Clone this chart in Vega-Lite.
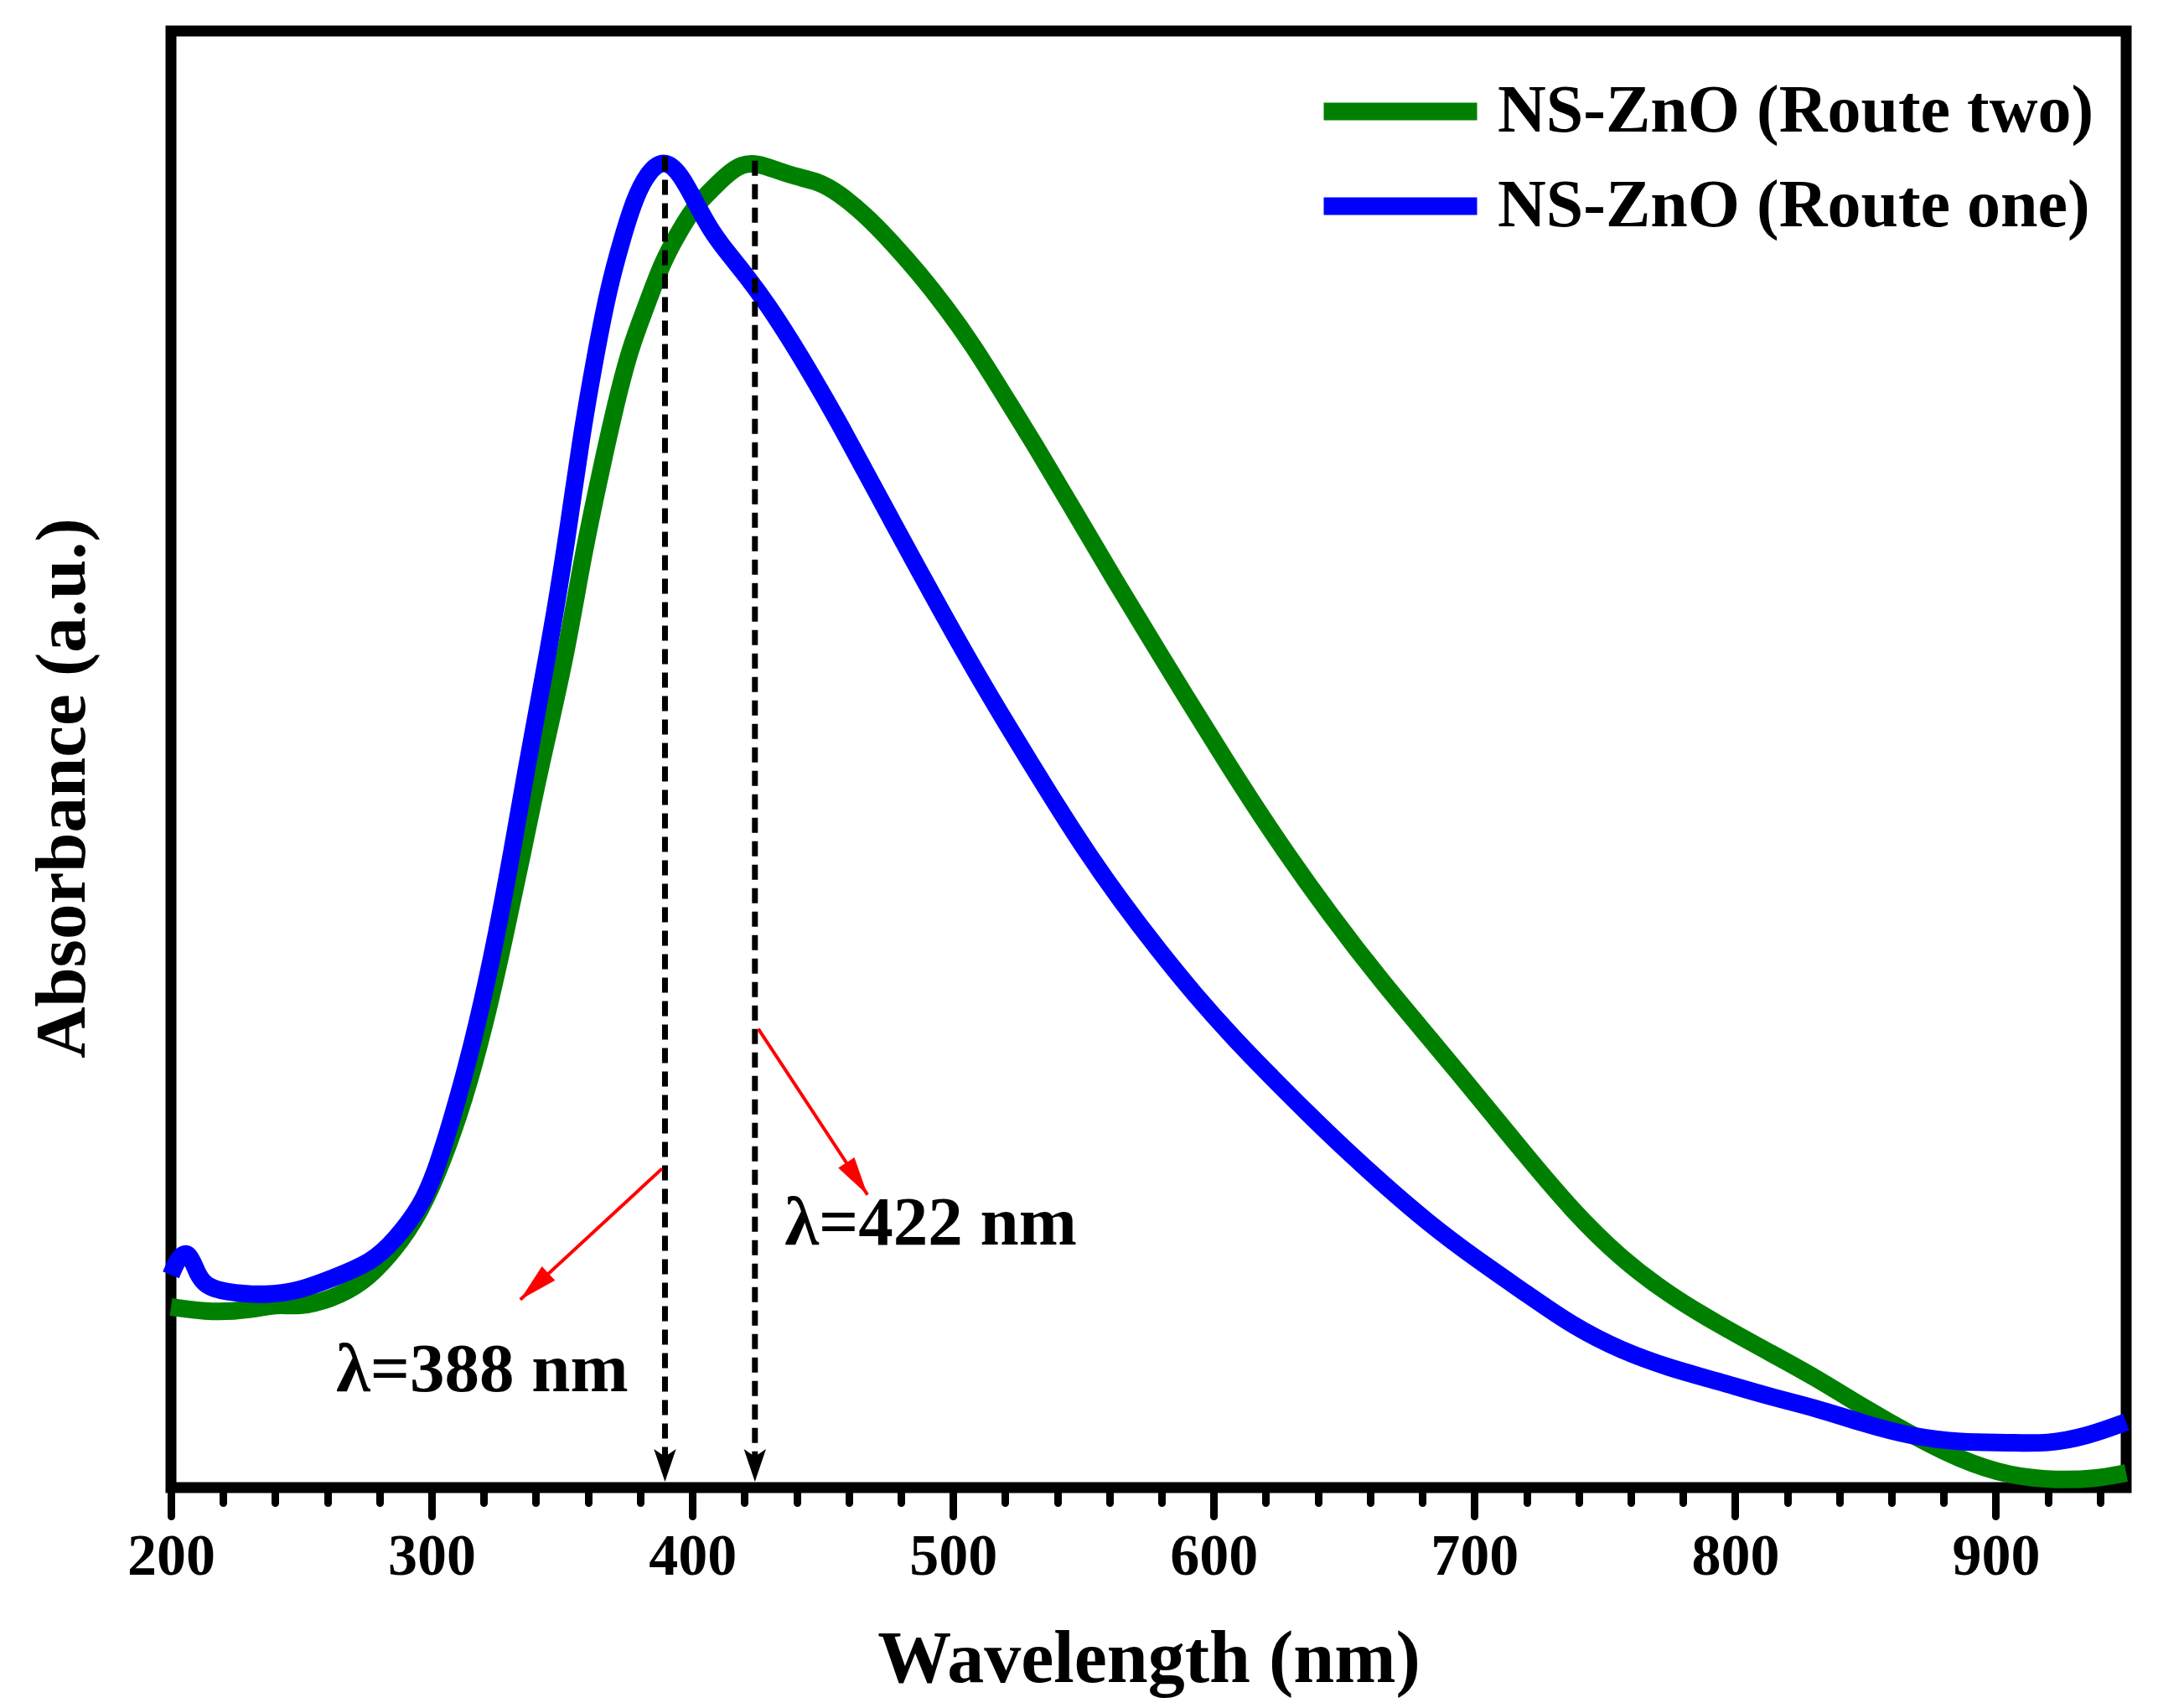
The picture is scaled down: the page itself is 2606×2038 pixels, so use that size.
{
  "$schema": "https://vega.github.io/schema/vega-lite/v6.json",
  "description": "UV-Vis absorbance of NS-ZnO, route one vs route two",
  "autosize": "none",
  "width": 2333,
  "height": 1738,
  "padding": {"left": 204, "top": 37, "right": 69, "bottom": 263},
  "background": "white",
  "datasets": {
    "curves": [
      {"series": "NS-ZnO (Route two)", "wl": 200, "a": 0.124},
      {"series": "NS-ZnO (Route two)", "wl": 216, "a": 0.120},
      {"series": "NS-ZnO (Route two)", "wl": 230.5, "a": 0.122},
      {"series": "NS-ZnO (Route two)", "wl": 240.7, "a": 0.126},
      {"series": "NS-ZnO (Route two)", "wl": 249, "a": 0.124},
      {"series": "NS-ZnO (Route two)", "wl": 261, "a": 0.129},
      {"series": "NS-ZnO (Route two)", "wl": 273.6, "a": 0.140},
      {"series": "NS-ZnO (Route two)", "wl": 285.9, "a": 0.163},
      {"series": "NS-ZnO (Route two)", "wl": 296, "a": 0.190},
      {"series": "NS-ZnO (Route two)", "wl": 304, "a": 0.223},
      {"series": "NS-ZnO (Route two)", "wl": 312.5, "a": 0.266},
      {"series": "NS-ZnO (Route two)", "wl": 320.6, "a": 0.319},
      {"series": "NS-ZnO (Route two)", "wl": 328, "a": 0.378},
      {"series": "NS-ZnO (Route two)", "wl": 335, "a": 0.437},
      {"series": "NS-ZnO (Route two)", "wl": 341, "a": 0.490},
      {"series": "NS-ZnO (Route two)", "wl": 351.4, "a": 0.570},
      {"series": "NS-ZnO (Route two)", "wl": 357.5, "a": 0.635},
      {"series": "NS-ZnO (Route two)", "wl": 363.7, "a": 0.688},
      {"series": "NS-ZnO (Route two)", "wl": 369.8, "a": 0.738},
      {"series": "NS-ZnO (Route two)", "wl": 376, "a": 0.782},
      {"series": "NS-ZnO (Route two)", "wl": 382.3, "a": 0.811},
      {"series": "NS-ZnO (Route two)", "wl": 388.4, "a": 0.841},
      {"series": "NS-ZnO (Route two)", "wl": 394.5, "a": 0.861},
      {"series": "NS-ZnO (Route two)", "wl": 400.6, "a": 0.879},
      {"series": "NS-ZnO (Route two)", "wl": 406.8, "a": 0.890},
      {"series": "NS-ZnO (Route two)", "wl": 412.9, "a": 0.901},
      {"series": "NS-ZnO (Route two)", "wl": 419, "a": 0.909},
      {"series": "NS-ZnO (Route two)", "wl": 425.3, "a": 0.909},
      {"series": "NS-ZnO (Route two)", "wl": 431.5, "a": 0.905},
      {"series": "NS-ZnO (Route two)", "wl": 439.5, "a": 0.900},
      {"series": "NS-ZnO (Route two)", "wl": 447.9, "a": 0.897},
      {"series": "NS-ZnO (Route two)", "wl": 456, "a": 0.889},
      {"series": "NS-ZnO (Route two)", "wl": 466.2, "a": 0.874},
      {"series": "NS-ZnO (Route two)", "wl": 476.5, "a": 0.855},
      {"series": "NS-ZnO (Route two)", "wl": 486.8, "a": 0.834},
      {"series": "NS-ZnO (Route two)", "wl": 497, "a": 0.811},
      {"series": "NS-ZnO (Route two)", "wl": 507.4, "a": 0.785},
      {"series": "NS-ZnO (Route two)", "wl": 519.6, "a": 0.750},
      {"series": "NS-ZnO (Route two)", "wl": 531, "a": 0.717},
      {"series": "NS-ZnO (Route two)", "wl": 544, "a": 0.678},
      {"series": "NS-ZnO (Route two)", "wl": 564.3, "a": 0.616},
      {"series": "NS-ZnO (Route two)", "wl": 584.2, "a": 0.558},
      {"series": "NS-ZnO (Route two)", "wl": 604.5, "a": 0.499},
      {"series": "NS-ZnO (Route two)", "wl": 624.4, "a": 0.444},
      {"series": "NS-ZnO (Route two)", "wl": 644.7, "a": 0.393},
      {"series": "NS-ZnO (Route two)", "wl": 664.6, "a": 0.347},
      {"series": "NS-ZnO (Route two)", "wl": 684, "a": 0.306},
      {"series": "NS-ZnO (Route two)", "wl": 700.6, "a": 0.270},
      {"series": "NS-ZnO (Route two)", "wl": 719.3, "a": 0.229},
      {"series": "NS-ZnO (Route two)", "wl": 737.6, "a": 0.190},
      {"series": "NS-ZnO (Route two)", "wl": 756.3, "a": 0.157},
      {"series": "NS-ZnO (Route two)", "wl": 774.9, "a": 0.132},
      {"series": "NS-ZnO (Route two)", "wl": 793.6, "a": 0.112},
      {"series": "NS-ZnO (Route two)", "wl": 811.9, "a": 0.094},
      {"series": "NS-ZnO (Route two)", "wl": 830.5, "a": 0.076},
      {"series": "NS-ZnO (Route two)", "wl": 849.2, "a": 0.055},
      {"series": "NS-ZnO (Route two)", "wl": 867.8, "a": 0.036},
      {"series": "NS-ZnO (Route two)", "wl": 886.5, "a": 0.019},
      {"series": "NS-ZnO (Route two)", "wl": 904.8, "a": 0.008},
      {"series": "NS-ZnO (Route two)", "wl": 923.5, "a": 0.005},
      {"series": "NS-ZnO (Route two)", "wl": 938.3, "a": 0.006},
      {"series": "NS-ZnO (Route two)", "wl": 950, "a": 0.010},
      {"series": "NS-ZnO (Route one)", "wl": 200, "a": 0.146},
      {"series": "NS-ZnO (Route one)", "wl": 202.8, "a": 0.158},
      {"series": "NS-ZnO (Route one)", "wl": 206.8, "a": 0.163},
      {"series": "NS-ZnO (Route one)", "wl": 210, "a": 0.147},
      {"series": "NS-ZnO (Route one)", "wl": 212.9, "a": 0.139},
      {"series": "NS-ZnO (Route one)", "wl": 220.3, "a": 0.134},
      {"series": "NS-ZnO (Route one)", "wl": 236.7, "a": 0.132},
      {"series": "NS-ZnO (Route one)", "wl": 249, "a": 0.135},
      {"series": "NS-ZnO (Route one)", "wl": 261, "a": 0.143},
      {"series": "NS-ZnO (Route one)", "wl": 277.5, "a": 0.155},
      {"series": "NS-ZnO (Route one)", "wl": 285.9, "a": 0.170},
      {"series": "NS-ZnO (Route one)", "wl": 296, "a": 0.193},
      {"series": "NS-ZnO (Route one)", "wl": 302, "a": 0.219},
      {"series": "NS-ZnO (Route one)", "wl": 310, "a": 0.266},
      {"series": "NS-ZnO (Route one)", "wl": 317.7, "a": 0.319},
      {"series": "NS-ZnO (Route one)", "wl": 324.8, "a": 0.378},
      {"series": "NS-ZnO (Route one)", "wl": 330.9, "a": 0.437},
      {"series": "NS-ZnO (Route one)", "wl": 336, "a": 0.490},
      {"series": "NS-ZnO (Route one)", "wl": 342, "a": 0.548},
      {"series": "NS-ZnO (Route one)", "wl": 347.3, "a": 0.600},
      {"series": "NS-ZnO (Route one)", "wl": 352.4, "a": 0.658},
      {"series": "NS-ZnO (Route one)", "wl": 357.5, "a": 0.723},
      {"series": "NS-ZnO (Route one)", "wl": 362.7, "a": 0.776},
      {"series": "NS-ZnO (Route one)", "wl": 367.8, "a": 0.823},
      {"series": "NS-ZnO (Route one)", "wl": 373, "a": 0.857},
      {"series": "NS-ZnO (Route one)", "wl": 378, "a": 0.886},
      {"series": "NS-ZnO (Route one)", "wl": 383.3, "a": 0.904},
      {"series": "NS-ZnO (Route one)", "wl": 389.4, "a": 0.912},
      {"series": "NS-ZnO (Route one)", "wl": 395.5, "a": 0.902},
      {"series": "NS-ZnO (Route one)", "wl": 401.6, "a": 0.881},
      {"series": "NS-ZnO (Route one)", "wl": 406.8, "a": 0.864},
      {"series": "NS-ZnO (Route one)", "wl": 412.9, "a": 0.849},
      {"series": "NS-ZnO (Route one)", "wl": 421.2, "a": 0.831},
      {"series": "NS-ZnO (Route one)", "wl": 429.3, "a": 0.811},
      {"series": "NS-ZnO (Route one)", "wl": 437.6, "a": 0.788},
      {"series": "NS-ZnO (Route one)", "wl": 445.7, "a": 0.764},
      {"series": "NS-ZnO (Route one)", "wl": 456, "a": 0.732},
      {"series": "NS-ZnO (Route one)", "wl": 466.2, "a": 0.698},
      {"series": "NS-ZnO (Route one)", "wl": 476.5, "a": 0.664},
      {"series": "NS-ZnO (Route one)", "wl": 486.8, "a": 0.630},
      {"series": "NS-ZnO (Route one)", "wl": 497, "a": 0.597},
      {"series": "NS-ZnO (Route one)", "wl": 507.4, "a": 0.564},
      {"series": "NS-ZnO (Route one)", "wl": 519.6, "a": 0.527},
      {"series": "NS-ZnO (Route one)", "wl": 535.7, "a": 0.480},
      {"series": "NS-ZnO (Route one)", "wl": 549.8, "a": 0.440},
      {"series": "NS-ZnO (Route one)", "wl": 564.3, "a": 0.403},
      {"series": "NS-ZnO (Route one)", "wl": 578.8, "a": 0.369},
      {"series": "NS-ZnO (Route one)", "wl": 592.9, "a": 0.338},
      {"series": "NS-ZnO (Route one)", "wl": 607.4, "a": 0.309},
      {"series": "NS-ZnO (Route one)", "wl": 621.5, "a": 0.283},
      {"series": "NS-ZnO (Route one)", "wl": 636, "a": 0.257},
      {"series": "NS-ZnO (Route one)", "wl": 650.5, "a": 0.232},
      {"series": "NS-ZnO (Route one)", "wl": 664.6, "a": 0.209},
      {"series": "NS-ZnO (Route one)", "wl": 682, "a": 0.182},
      {"series": "NS-ZnO (Route one)", "wl": 700.6, "a": 0.157},
      {"series": "NS-ZnO (Route one)", "wl": 719.3, "a": 0.134},
      {"series": "NS-ZnO (Route one)", "wl": 737.6, "a": 0.111},
      {"series": "NS-ZnO (Route one)", "wl": 756.3, "a": 0.094},
      {"series": "NS-ZnO (Route one)", "wl": 774.9, "a": 0.082},
      {"series": "NS-ZnO (Route one)", "wl": 793.6, "a": 0.073},
      {"series": "NS-ZnO (Route one)", "wl": 811.9, "a": 0.063},
      {"series": "NS-ZnO (Route one)", "wl": 830.5, "a": 0.055},
      {"series": "NS-ZnO (Route one)", "wl": 849.2, "a": 0.044},
      {"series": "NS-ZnO (Route one)", "wl": 867.8, "a": 0.035},
      {"series": "NS-ZnO (Route one)", "wl": 886.5, "a": 0.031},
      {"series": "NS-ZnO (Route one)", "wl": 904.8, "a": 0.031},
      {"series": "NS-ZnO (Route one)", "wl": 920, "a": 0.030},
      {"series": "NS-ZnO (Route one)", "wl": 934.7, "a": 0.035},
      {"series": "NS-ZnO (Route one)", "wl": 950, "a": 0.045}
    ],
    "peaks": [
      {"wl": 389.5, "a": 0.914, "a2": 0.02},
      {"wl": 424, "a": 0.911, "a2": 0.02}
    ],
    "peakTips": [
      {"wl": 389.5, "a": 0.004},
      {"wl": 424, "a": 0.004}
    ],
    "pointers": [
      {"wl": 388.4, "a": 0.219, "wl2": 334, "a2": 0.129},
      {"wl": 425.3, "a": 0.315, "wl2": 467.2, "a2": 0.201}
    ],
    "pointerTips": [
      {"wl": 334, "a": 0.129},
      {"wl": 467.2, "a": 0.201}
    ],
    "labels": [
      {"wl": 263.3, "a": 0.066, "text": "λ=388 nm"},
      {"wl": 435.4, "a": 0.167, "text": "λ=422 nm"}
    ]
  },
  "encoding": {
    "x": {"field": "wl", "type": "quantitative", "scale": {"domain": [200, 950], "nice": false, "zero": false}, "axis": null},
    "y": {
      "field": "a", "type": "quantitative",
      "scale": {"domain": [0, 1], "nice": false},
      "axis": {
        "orient": "left",
        "ticks": false,
        "labels": false,
        "title": "Absorbance (a.u.)",
        "titleFontSize": 85,
        "titleAngle": 270,
        "titleBaseline": "alphabetic",
        "titleAlign": "center",
        "titleX": -104,
        "titleY": 903
      }
    }
  },
  "layer": [
    {
      "data": {"name": "curves"},
      "mark": {"type": "line", "strokeWidth": 21, "strokeJoin": "round", "interpolate": "basis"},
      "encoding": {
        "x": {
          "field": "wl", "type": "quantitative",
          "scale": {"domain": [200, 950], "nice": false, "zero": false},
          "axis": {
            "orient": "bottom",
            "values": [200, 300, 400, 500, 600, 700, 800, 900],
            "tickSize": 34,
            "labelPadding": 14,
            "labelFlush": false,
            "labelOverlap": false,
            "title": "Wavelength (nm)",
            "titleBaseline": "alphabetic",
            "titleY": 231
          }
        },
        "color": {
          "field": "series", "type": "nominal",
          "scale": {"domain": ["NS-ZnO (Route two)", "NS-ZnO (Route one)"], "range": ["#008000", "#0000ff"]},
          "legend": {
            "orient": "none",
            "legendX": 1365,
            "legendY": 51,
            "title": null,
            "symbolType": "stroke",
            "symbolSize": 33489,
            "symbolStrokeWidth": 21,
            "labelFont": "Liberation Serif",
            "labelFontWeight": "bold",
            "labelFontSize": 80,
            "labelColor": "black",
            "labelOffset": 14,
            "labelLimit": 0,
            "clipHeight": 90,
            "rowPadding": 23,
            "padding": 0
          }
        }
      }
    },
    {
      "data": {"name": "peaks"},
      "mark": {"type": "rule", "color": "black", "strokeWidth": 7, "strokeDash": [18, 10]},
      "encoding": {
        "x": {
          "field": "wl", "type": "quantitative",
          "scale": {"domain": [200, 950], "nice": false, "zero": false},
          "axis": {
            "orient": "bottom",
            "values": [220, 240, 260, 280, 320, 340, 360, 380, 420, 440, 460, 480, 520, 540, 560, 580, 620, 640, 660, 680, 720, 740, 760, 780, 820, 840, 860, 880, 920, 940],
            "tickSize": 18,
            "labels": false,
            "title": null
          }
        },
        "y2": {"field": "a2"}
      }
    },
    {
      "data": {"name": "peakTips"},
      "mark": {"type": "point", "shape": "M0,0L-0.66,-1.95L0,-1.5L0.66,-1.95Z", "size": 1600, "filled": true, "color": "black", "opacity": 1, "strokeWidth": 0}
    },
    {
      "data": {"name": "pointers"},
      "mark": {"type": "rule", "color": "#ff0000", "strokeWidth": 4},
      "encoding": {
        "x2": {"field": "wl2"},
        "y2": {"field": "a2"}
      }
    },
    {
      "data": {"name": "pointerTips"},
      "transform": [{"filter": "datum.wl < 400"}],
      "mark": {"type": "point", "shape": "M0,0L-0.5,-2L0.5,-2Z", "size": 2116, "filled": true, "color": "#ff0000", "opacity": 1, "strokeWidth": 0, "angle": 47}
    },
    {
      "data": {"name": "pointerTips"},
      "transform": [{"filter": "datum.wl > 400"}],
      "mark": {"type": "point", "shape": "M0,0L-0.5,-2L0.5,-2Z", "size": 2116, "filled": true, "color": "#ff0000", "opacity": 1, "strokeWidth": 0, "angle": 326.6}
    },
    {
      "data": {"name": "labels"},
      "mark": {"type": "text", "align": "left", "baseline": "alphabetic", "font": "Liberation Serif", "fontWeight": "bold", "fontSize": 83, "color": "black"},
      "encoding": {
        "text": {"field": "text"}
      }
    }
  ],
  "resolve": {"axis": {"x": "independent"}},
  "config": {
    "font": "Liberation Serif",
    "view": {"stroke": "black", "strokeWidth": 13},
    "axis": {
      "grid": false,
      "domain": false,
      "tickColor": "black",
      "tickWidth": 9,
      "tickCap": "round",
      "labelFont": "Liberation Serif",
      "labelFontWeight": "bold",
      "labelFontSize": 70,
      "labelColor": "black",
      "titleFont": "Liberation Serif",
      "titleFontWeight": "bold",
      "titleFontSize": 88,
      "titleColor": "black"
    }
  }
}
